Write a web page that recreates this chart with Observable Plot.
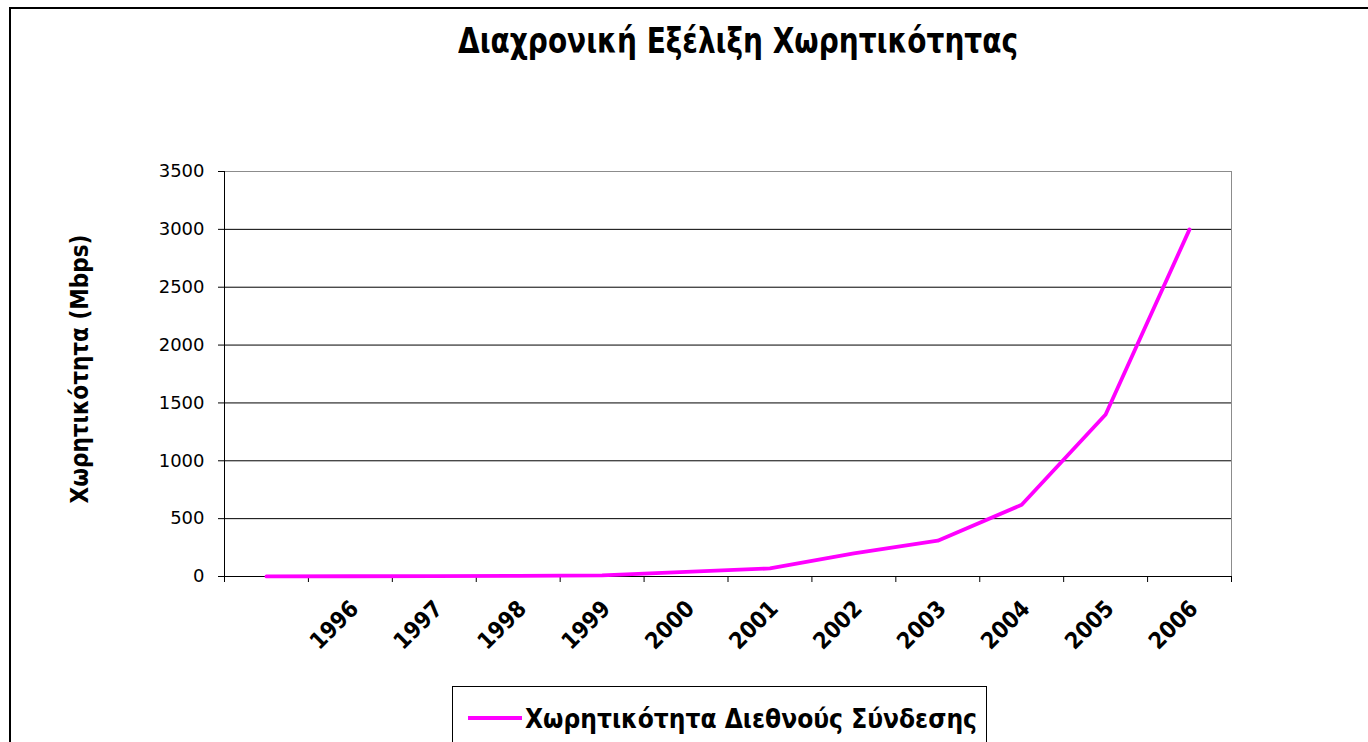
<!DOCTYPE html>
<html>
<head>
<meta charset="utf-8">
<script src="https://cdn.jsdelivr.net/npm/d3@7"></script>
<script src="https://cdn.jsdelivr.net/npm/@observablehq/plot@0.6"></script>
<style>
  html, body { margin: 0; padding: 0; background: #fff; }
  #wrap { position: relative; width: 1368px; height: 742px; overflow: hidden; background: #fff; }
  #frame { position: absolute; left: 9px; top: 7px; width: 1400px; height: 800px; border-top: 2px solid #000; border-left: 2px solid #000; }
  .bold { font-family: "Liberation Sans Narrow", "DejaVu Sans Condensed", "DejaVu Sans", sans-serif; font-weight: bold; color: #000; white-space: nowrap; display: inline-block; line-height: 1; transform-origin: 0 0; }
  #title { position: absolute; left: 458px; top: 24px; font-size: 35px; }
  #chart { position: absolute; left: 0; top: 0; }
  #legend { position: absolute; left: 452px; top: 686px; width: 533px; height: 90px; border: 1px solid #000; background: #fff; }
  #swatch { position: absolute; left: 15px; top: 29px; width: 54px; height: 4px; background: #ff00ff; }
  #legtext { position: absolute; left: 72px; top: 18px; font-size: 27px; }
</style>
</head>
<body>
<div id="wrap">
  <div id="frame"></div>
  <div id="chart"></div>
  <span id="title" class="bold"></span>
  <div id="legend"><span id="swatch"></span><span id="legtext" class="bold"></span></div>
</div>
<script>
const title = "Διαχρονική Εξέλιξη Χωρητικότητας";
const yLabel = "Χωρητικότητα (Mbps)";
const seriesName = "Χωρητικότητα Διεθνούς Σύνδεσης";
const categories = ["", "1996", "1997", "1998", "1999", "2000", "2001", "2002", "2003", "2004", "2005", "2006"];
const capacity = [1, 2, 3, 5, 10, 40, 70, 200, 310, 620, 1400, 3000];
const yTicks = [0, 500, 1000, 1500, 2000, 2500, 3000, 3500];

const rows = categories.map((c, i) => ({pos: i + 0.5, label: c, value: capacity[i]}));
const boundaries = d3.range(categories.length + 1);
const yMax = yTicks[yTicks.length - 1];
const boldFont = '"Liberation Sans Narrow", "DejaVu Sans Condensed", "DejaVu Sans", sans-serif';

const chart = Plot.plot({
  width: 1368,
  height: 680,
  marginLeft: 224,
  marginRight: 137,
  marginTop: 171,
  marginBottom: 104,
  style: {fontFamily: '"DejaVu Sans", sans-serif', fontSize: "18px", color: "#000", background: "transparent", overflow: "visible"},
  x: {domain: [0, categories.length]},
  y: {domain: [0, yMax]},
  marks: [
    Plot.gridY(yTicks.filter(t => t > 0 && t < yMax), {stroke: "#000", strokeOpacity: 1, strokeWidth: 1}),
    Plot.ruleY([yMax], {stroke: "#8c8c8c"}),
    Plot.ruleX([categories.length], {stroke: "#8c8c8c"}),
    Plot.axisY({ticks: yTicks, tickSize: 6, tickPadding: 14, tickFormat: d3.format("d"), label: null, fontSize: 18}),
    Plot.axisX({ticks: boundaries, tickSize: 6, tickFormat: () => "", label: null}),
    Plot.ruleX([0], {stroke: "#000"}),
    Plot.ruleY([0], {stroke: "#000"}),
    Plot.line(rows, {x: "pos", y: "value", stroke: "#ff00ff", strokeWidth: 3.8}),
    Plot.text(rows, {x: "pos", y: () => 0, text: "label", rotate: -45, textAnchor: "end", lineAnchor: "top",
      dx: -2, dy: 22, fontWeight: "bold", fontSize: 23, fontFamily: boldFont, fill: "#000"}),
    Plot.text([yLabel], {frameAnchor: "left", text: d => d, rotate: -90, textAnchor: "middle", dx: -144, dy: -5,
      fontWeight: "bold", fontSize: 24, fontFamily: boldFont, fill: "#000"})
  ]
});
document.getElementById("chart").appendChild(chart);

function fit(el, w) {
  const r = el.getBoundingClientRect().width;
  if (r > 0) el.style.transform = `scaleX(${w / r})`;
}
const t = document.getElementById("title");
t.textContent = title;
fit(t, 560);
const lt = document.getElementById("legtext");
lt.textContent = seriesName;
fit(lt, 452);
</script>
</body>
</html>
